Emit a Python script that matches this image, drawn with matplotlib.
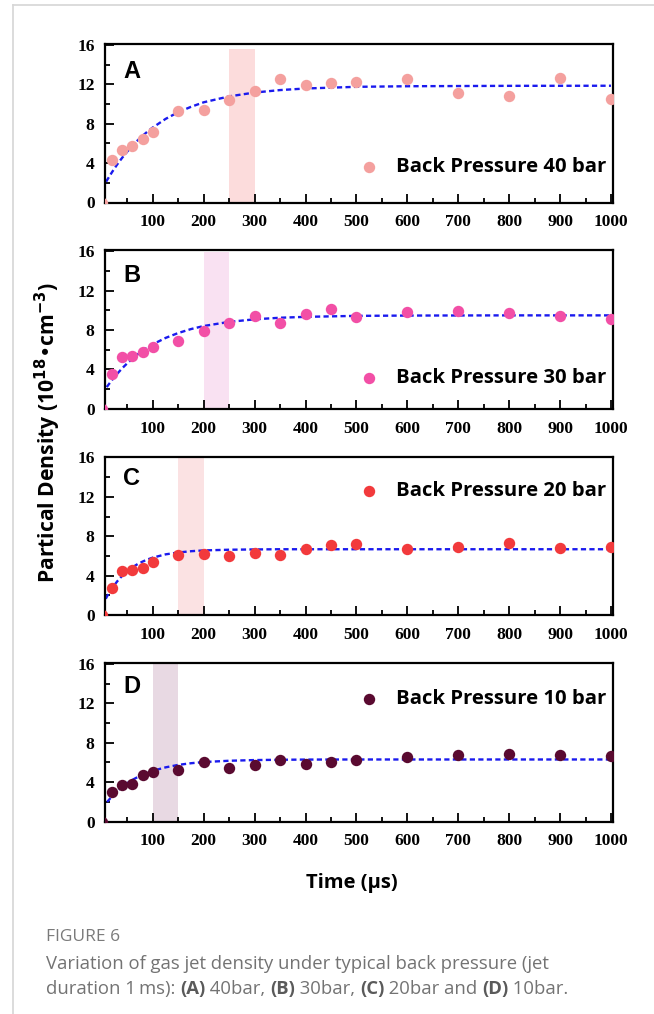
import matplotlib
matplotlib.use("Agg")
import matplotlib.pyplot as plt
from matplotlib.lines import Line2D

# ---------------- data ----------------
time_us = [0, 20, 40, 60, 80, 100, 150, 200, 250, 300, 350, 400, 450, 500, 600, 700, 800, 900, 1000]
dens_40bar = [0, 4.3, 5.37, 5.74, 6.5, 7.15, 9.3, 9.37, 10.46, 11.28, 12.55, 11.97, 12.14, 12.24, 12.58, 11.15, 10.8, 12.65, 10.5]
dens_30bar = [0, 3.5, 5.24, 5.4, 5.75, 6.3, 6.84, 7.93, 8.67, 9.46, 8.71, 9.66, 10.1, 9.32, 9.83, 9.97, 9.73, 9.39, 9.08]
dens_20bar = [0, 2.71, 4.47, 4.6, 4.78, 5.42, 6.14, 6.2, 5.97, 6.34, 6.14, 6.71, 7.08, 7.19, 6.71, 6.95, 7.36, 6.85, 6.95]
dens_10bar = [0, 3.02, 3.73, 3.83, 4.75, 5.02, 5.25, 6.03, 5.46, 5.69, 6.27, 5.86, 6.07, 6.2, 6.54, 6.71, 6.85, 6.78, 6.64]

# fitted curves
fit_time = [0, 10, 20, 30, 40, 50, 60, 70, 80, 90, 100, 125, 150, 175, 200, 250, 300, 350, 400, 500, 600, 800, 1000]
fit_40bar = [1.36, 2.27, 3.10, 3.87, 4.56, 5.19, 5.77, 6.30, 6.78, 7.23, 7.62, 8.49, 9.18, 9.72, 10.18, 10.78, 11.17, 11.42, 11.58, 11.75, 11.81, 11.85, 11.86]
fit_30bar = [1.49, 2.25, 2.94, 3.56, 4.13, 4.64, 5.10, 5.52, 5.90, 6.24, 6.55, 7.20, 7.70, 8.10, 8.41, 8.83, 9.09, 9.25, 9.34, 9.44, 9.47, 9.49, 9.49]
fit_20bar = [0.88, 1.90, 2.73, 3.42, 4.00, 4.46, 4.85, 5.17, 5.43, 5.65, 5.83, 6.16, 6.35, 6.48, 6.56, 6.63, 6.66, 6.68, 6.68, 6.68, 6.68, 6.68, 6.68]
fit_10bar = [1.30, 1.98, 2.57, 3.08, 3.53, 3.90, 4.23, 4.51, 4.76, 4.97, 5.15, 5.50, 5.75, 5.92, 6.04, 6.17, 6.24, 6.27, 6.29, 6.30, 6.30, 6.30, 6.30]

panel_letters = ["A", "B", "C", "D"]
legend_labels = ["Back Pressure 40 bar", "Back Pressure 30 bar", "Back Pressure 20 bar", "Back Pressure 10 bar"]
band_ranges = [(250, 300), (200, 250), (150, 200), (100, 150)]
x_ticks = [100, 200, 300, 400, 500, 600, 700, 800, 900, 1000]
y_ticks = [0, 4, 8, 12, 16]

series = [dens_40bar, dens_30bar, dens_20bar, dens_10bar]
fits = [fit_40bar, fit_30bar, fit_20bar, fit_10bar]

# ---------------- styling ----------------
marker_colors = ["#f4a09e", "#f24fa6", "#f23a3c", "#5a0a30"]
band_colors = ["#fcdcdc", "#f9e1f2", "#fbe2e3", "#e8d9e3"]
band_top = [0.968, 0.987, 1.0, 1.0]
legend_y = [0.225, 0.197, 0.783, 0.771]
letter_y = [0.825, 0.844, 0.86, 0.849]

W, H = 654, 1014
fig = plt.figure(figsize=(W / 100, H / 100), dpi=100)

left_px, right_px = 105, 613
bottoms_px = [202.5, 408.8, 615.0, 821.5]
height_px = 158.5

sans = ["Open Sans", "DejaVu Sans"]
serif = ["Liberation Serif", "DejaVu Serif"]

for i in range(4):
    ax = fig.add_axes([left_px / W, (H - bottoms_px[i]) / H,
                       (right_px - left_px) / W, height_px / H])
    ax.axvspan(band_ranges[i][0], band_ranges[i][1], ymin=0, ymax=band_top[i],
               color=band_colors[i], lw=0, zorder=0)
    ax.plot(fit_time, fits[i], linestyle=(0, (2.2, 1.4)), color="#1a1aee", lw=1.7, zorder=2)
    ax.plot(time_us, series[i], "o", ms=8.2, color=marker_colors[i], mec="none", zorder=3)
    ax.set_xlim(6, 1004)
    ax.set_ylim(0, 16.1)
    ax.set_xticks(x_ticks)
    ax.set_xticks(range(50, 1001, 100), minor=True)
    ax.set_yticks(y_ticks)
    ax.set_yticks([2, 6, 10, 14], minor=True)
    ax.tick_params(which="both", direction="in", top=False, right=False, width=1.3, color="black")
    ax.tick_params(which="major", length=6.7)
    ax.tick_params(which="minor", length=3.4)
    ax.tick_params(axis="x", pad=8.5)
    ax.tick_params(axis="y", pad=7.5)
    for lab in ax.get_xticklabels() + ax.get_yticklabels():
        lab.set_fontfamily(serif)
        lab.set_fontweight("bold")
        lab.set_fontsize(12.5)
    for s in ax.spines.values():
        s.set_linewidth(1.6)
    ax.text(0.036, letter_y[i], panel_letters[i], transform=ax.transAxes, ha="left", va="center",
            fontsize=17, fontweight="bold", family=["Liberation Sans", "DejaVu Sans"])
    # legend (marker + label)
    ax.plot([0.52], [legend_y[i]], "o", ms=8.2, color=marker_colors[i], mec="none",
            transform=ax.transAxes, clip_on=False)
    ax.text(0.572, legend_y[i], legend_labels[i], transform=ax.transAxes, ha="left", va="center",
            fontsize=14.6, fontweight="bold", family=sans)

# axis labels
fig.text(48 / W, 1 - 432 / H, r"Partical Density (10$^{\mathbf{18}}$•cm$^{\mathbf{-3}}$)",
         rotation=90, ha="center", va="center", fontsize=15.2, fontweight="bold", family=sans)
fig.text(352 / W, 1 - 883 / H, "Time (μs)", ha="center", va="center",
         fontsize=14.5, fontweight="bold", family=sans)

# frame lines
fig.add_artist(Line2D([13.3 / W, 1], [1 - 4.5 / H, 1 - 4.5 / H], color="#d6d6d6", lw=1.2,
                      transform=fig.transFigure))
fig.add_artist(Line2D([13.3 / W, 13.3 / W], [0, 1 - 4.5 / H], color="#d6d6d6", lw=1.2,
                      transform=fig.transFigure))

# caption
fig.text(46 / W, 1 - 937 / H, "FIGURE 6", ha="left", va="center", fontsize=12.5,
         color="#7a7a7a", family=sans, fontweight="medium")

renderer = fig.canvas.get_renderer()


def draw_runs(x_px, y_px, runs):
    x = x_px
    for txt, bold in runs:
        t = fig.text(x / W, 1 - y_px / H, txt, ha="left", va="center", fontsize=13.3,
                     color="#5a5a5a" if bold else "#737373", family=sans,
                     fontweight="bold" if bold else "normal")
        bb = t.get_window_extent(renderer=renderer)
        x += bb.width


draw_runs(46, 964, [("Variation of gas jet density under typical back pressure (jet", False)])
draw_runs(46, 989, [("duration 1\u2009ms): ", False), ("(A)", True), (" 40bar, ", False), ("(B)", True),
                    (" 30bar, ", False), ("(C)", True), (" 20bar and ", False), ("(D)", True),
                    (" 10bar.", False)])

fig.savefig("out.png", dpi=100)
